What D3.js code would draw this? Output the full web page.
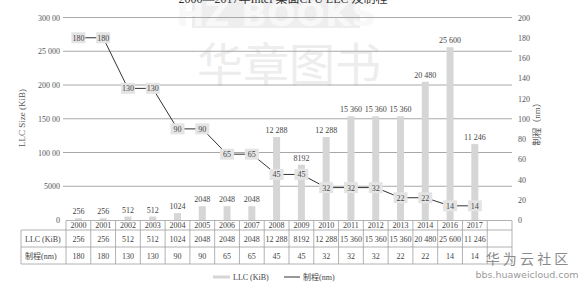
<!DOCTYPE html>
<html>
<head>
<meta charset="utf-8">
<title>LLC</title>
<script src="https://d3js.org/d3.v7.min.js"></script>
<style>
  body { margin: 0; background: #fff; }
  svg text { font-family: "Liberation Serif", "Times New Roman", "DejaVu Serif", "Noto Sans CJK SC", serif; }
</style>
</head>
<body>
<div id="plot"></div>
<script>
// data
var years = ['2000','2001','2002','2003','2004','2005','2006','2007','2008','2009','2010','2011','2012','2013','2014','2016','2017']
var llc = [256,256,512,512,1024,2048,2048,2048,12288,8192,12288,15360,15360,15360,20480,25600,11246]
var proc = [180,180,130,130,90,90,65,65,45,45,32,32,32,22,22,14,14]
var leftTicks = [0,5000,10000,15000,20000,25000,30000]
var leftTickLabels = ['0','5000','100 00','150 00','200 00','25 000','300 00']
var rightTicks = [0,20,40,60,80,100,120,140,160,180,200]

var W = 581, H = 285
var svg = d3.select('#plot').append('svg').attr('width', W).attr('height', H)

var x = d3.scaleBand().domain(years.concat([''])).range([66, 512])
var yL = d3.scaleLinear().domain([0, 30000]).range([220, 17.5])
var yR = d3.scaleLinear().domain([0, 200]).range([220, 17.5])

function fmt(v){
  var s = String(v)
  if (v >= 10000) s = s.slice(0, s.length-3) + ' ' + s.slice(-3)
  return s
}

// watermark
var wm = svg.append('g')
wm.append('rect').attr('x', 192).attr('y', 0).attr('width', 168).attr('height', 28).attr('fill', '#eeeeee')
wm.append('text').attr('x', 276).attr('y', 26).attr('text-anchor', 'middle')
  .style('font-family', '"DejaVu Sans", sans-serif').style('font-weight', 'bold').style('font-size', '34px')
  .attr('fill', '#f8f8f8').text('HZ BOOKS')
wm.append('text').attr('x', 289).attr('y', 81).attr('text-anchor', 'middle')
  .style('font-family', '"Noto Sans CJK SC", sans-serif').style('font-size', '46px')
  .attr('fill', '#ededed').text('华章图书')

// title (cut at top)
svg.append('text').attr('x', 283).attr('y', 3).attr('text-anchor', 'middle')
  .style('font-size', '12px').attr('fill', '#333').text('2000—2017年Intel 桌面CPU LLC 及制程')

// grid
svg.selectAll('.grid').data(leftTicks.slice(1)).enter().append('line')
  .attr('x1', 63).attr('x2', 512)
  .attr('y1', function(d){return yL(d)}).attr('y2', function(d){return yL(d)})
  .attr('stroke', '#a8a8a8').attr('stroke-width', 1)

// left axis labels
svg.selectAll('.lt').data(leftTicks).enter().append('text')
  .attr('x', 60).attr('y', function(d){return yL(d) + 3})
  .attr('text-anchor', 'end').style('font-size', '8px').attr('fill', '#555')
  .text(function(d, i){return leftTickLabels[i]})

// right axis labels
svg.selectAll('.rt').data(rightTicks).enter().append('text')
  .attr('x', 518).attr('y', function(d){return yR(d) + 3})
  .style('font-size', '8px').attr('fill', '#555')
  .text(function(d){return d})

svg.append('text').attr('transform', 'translate(25,118) rotate(-90)').attr('text-anchor', 'middle')
  .style('font-size', '9px').attr('fill', '#555').text('LLC Size (KiB)')
svg.append('text').attr('transform', 'translate(540,122) rotate(-90)').attr('text-anchor', 'middle')
  .style('font-size', '9px').attr('fill', '#555').text('制程（nm）')

// bars
var bw = 7
svg.selectAll('.bar').data(llc).enter().append('rect')
  .attr('x', function(d, i){return x(years[i]) + x.bandwidth()/2 - bw/2})
  .attr('y', function(d){return yL(d)})
  .attr('width', bw)
  .attr('height', function(d){return 220 - yL(d)})
  .attr('fill', '#d6d6d6')
svg.selectAll('.blab').data(llc).enter().append('text')
  .attr('x', function(d, i){return x(years[i]) + x.bandwidth()/2})
  .attr('y', function(d){return yL(d) - 4})
  .attr('text-anchor', 'middle').style('font-size', '8px').attr('fill', '#444')
  .text(function(d){return fmt(d)})

// process line
var line = d3.line()
  .x(function(d, i){return x(years[i]) + x.bandwidth()/2})
  .y(function(d){return yR(d)})
svg.append('path').datum(proc).attr('d', line)
  .attr('fill', 'none').attr('stroke', '#333').attr('stroke-width', 1)
svg.selectAll('.pbox').data(proc).enter().append('rect')
  .attr('x', function(d, i){return x(years[i]) + x.bandwidth()/2 - 7})
  .attr('y', function(d){return yR(d) - 5.5})
  .attr('width', 14).attr('height', 11)
  .attr('fill', '#e4e4e4')
svg.selectAll('.plab').data(proc).enter().append('text')
  .attr('x', function(d, i){return x(years[i]) + x.bandwidth()/2})
  .attr('y', function(d){return yR(d) + 3})
  .attr('text-anchor', 'middle').style('font-size', '8px').attr('fill', '#444')
  .text(function(d){return d})

// data table
var rows = [220.5, 230, 247, 264]
var tb = svg.append('g').attr('stroke', '#a0a0a0').attr('stroke-width', 0.8)
tb.append('line').attr('x1', 66).attr('x2', 512).attr('y1', rows[0]).attr('y2', rows[0])
rows.slice(1).forEach(function(r){
  tb.append('line').attr('x1', 21).attr('x2', 512).attr('y1', r).attr('y2', r)
})
x.domain().forEach(function(k){
  tb.append('line').attr('x1', x(k)).attr('x2', x(k)).attr('y1', rows[0]).attr('y2', rows[3])
})
tb.append('line').attr('x1', 512).attr('x2', 512).attr('y1', rows[0]).attr('y2', rows[3])
tb.append('line').attr('x1', 21).attr('x2', 21).attr('y1', rows[1]).attr('y2', rows[3])

function cellText(vals, r0, r1){
  svg.selectAll(null).data(vals).enter().append('text')
    .attr('x', function(d, i){return x(years[i]) + x.bandwidth()/2})
    .attr('y', (r0 + r1)/2 + 3)
    .attr('text-anchor', 'middle').style('font-size', '8px').attr('fill', '#444')
    .text(function(d){return d})
}
cellText(years, rows[0], rows[1])
cellText(llc.map(fmt), rows[1], rows[2])
cellText(proc, rows[2], rows[3])
svg.append('text').attr('x', 25).attr('y', (rows[1]+rows[2])/2 + 3)
  .style('font-size', '8px').attr('fill', '#444').text('LLC (KiB)')
svg.append('text').attr('x', 25).attr('y', (rows[2]+rows[3])/2 + 3)
  .style('font-size', '8px').attr('fill', '#444').text('制程(nm)')

// legend
svg.append('rect').attr('x', 213).attr('y', 275.5).attr('width', 17).attr('height', 3).attr('fill', '#d6d6d6')
svg.append('text').attr('x', 233).attr('y', 280).style('font-size', '8px').attr('fill', '#444').text('LLC (KiB)')
svg.append('line').attr('x1', 284).attr('x2', 300).attr('y1', 277).attr('y2', 277).attr('stroke', '#333')
svg.append('text').attr('x', 303).attr('y', 280).style('font-size', '8px').attr('fill', '#444').text('制程(nm)')

// site mark
svg.append('text').attr('x', 527).attr('y', 264).attr('text-anchor', 'middle')
  .style('font-family', '"Noto Sans CJK SC", sans-serif').style('font-size', '14px')
  .attr('fill', '#8a8a8a').text('华 为 云 社 区')
svg.append('text').attr('x', 527).attr('y', 278).attr('text-anchor', 'middle')
  .style('font-family', '"DejaVu Sans", sans-serif').style('font-size', '9.5px')
  .attr('fill', '#9a9a9a').text('bbs.huaweicloud.com')
</script>
</body>
</html>
